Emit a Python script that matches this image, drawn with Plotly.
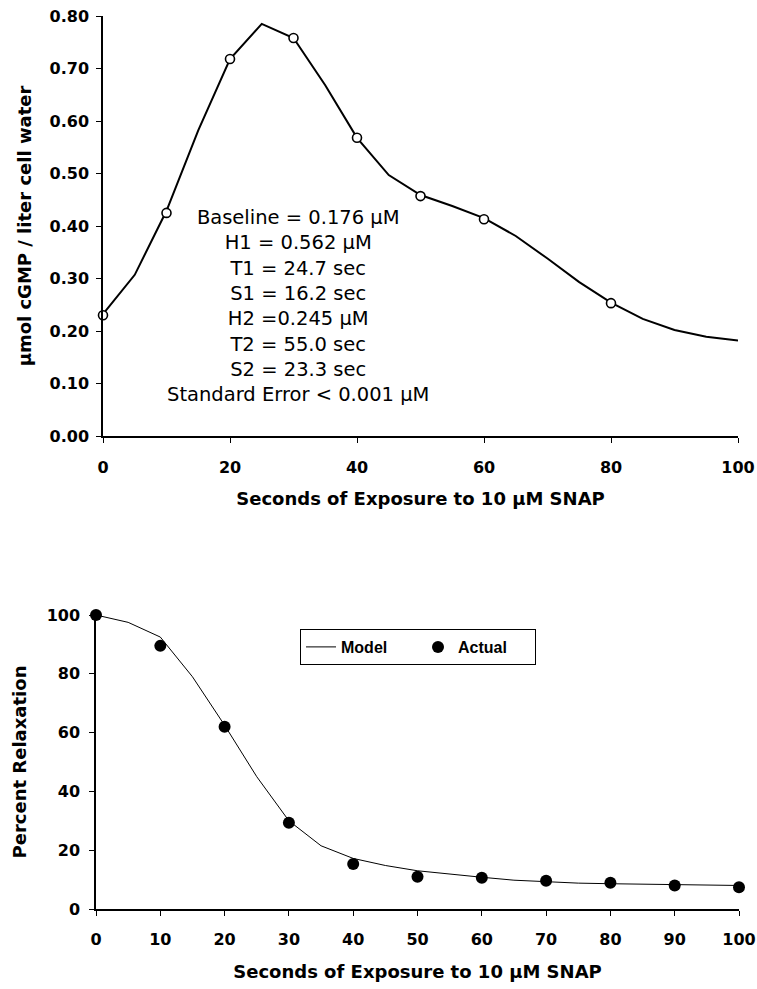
import plotly.graph_objects as go

# ---------------- data ----------------
# Top panel: cGMP (µmol / liter cell water) vs seconds of exposure
top_model_t = [0, 5, 10, 15, 20, 25, 30, 35, 40, 45, 50, 55, 60, 65, 70, 75, 80, 85, 90, 95, 100]
top_model_y = [0.232, 0.307, 0.429, 0.582, 0.718, 0.785, 0.758, 0.668, 0.568, 0.497, 0.459,
               0.438, 0.415, 0.381, 0.338, 0.293, 0.254, 0.223, 0.202, 0.189, 0.182]
top_data_t = [0, 10, 20, 30, 40, 50, 60, 80]
top_data_y = [0.230, 0.425, 0.718, 0.758, 0.568, 0.457, 0.413, 0.253]

top_xticks = [0, 20, 40, 60, 80, 100]
top_yticks = [0.0, 0.1, 0.2, 0.3, 0.4, 0.5, 0.6, 0.7, 0.8]

params_lines = ["Baseline = 0.176 µM", "H1 = 0.562 µM", "T1 = 24.7 sec", "S1 = 16.2 sec",
                "H2 =0.245 µM", "T2 = 55.0 sec", "S2 = 23.3 sec", "Standard Error &lt; 0.001 µM"]

# Bottom panel: percent relaxation
bot_model_t = [0, 5, 10, 15, 20, 25, 30, 35, 40, 45, 50, 55, 60, 65, 70, 75, 80, 85, 90, 95, 100]
bot_model_y = [100, 97.5, 92.5, 79, 62.5, 45, 30, 21.5, 17.2, 14.8, 13, 11.8, 10.8, 9.8, 9.2,
               8.8, 8.6, 8.4, 8.2, 8.1, 8.0]
bot_data_t = [0, 10, 20, 30, 40, 50, 60, 70, 80, 90, 100]
bot_data_y = [100, 89.5, 62, 29.3, 15.3, 11, 10.6, 9.6, 8.9, 8.0, 7.4]

bot_xticks = [0, 10, 20, 30, 40, 50, 60, 70, 80, 90, 100]
bot_yticks = [0, 20, 40, 60, 80, 100]

x_title = "Seconds of Exposure to 10 µM SNAP"
top_y_title = "µmol cGMP / liter cell water"
bot_y_title = "Percent Relaxation"

# ---------------- figure ----------------
W, H = 757, 989

def px_x(p):
    return p / W

def px_y(p):
    return 1 - p / H

fig = go.Figure()

fig.add_trace(go.Scatter(x=top_model_t, y=top_model_y, mode="lines",
                         line=dict(color="black", width=2), showlegend=False,
                         xaxis="x", yaxis="y", cliponaxis=False, hoverinfo="skip"))
fig.add_trace(go.Scatter(x=top_data_t, y=top_data_y, mode="markers",
                         marker=dict(symbol="circle", size=9, color="white",
                                     line=dict(color="black", width=1.6)),
                         showlegend=False, xaxis="x", yaxis="y", cliponaxis=False))

fig.add_trace(go.Scatter(x=bot_model_t, y=bot_model_y, mode="lines", name="Model",
                         line=dict(color="black", width=1),
                         xaxis="x2", yaxis="y2", cliponaxis=False))
fig.add_trace(go.Scatter(x=bot_data_t, y=bot_data_y, mode="markers", name="Actual",
                         marker=dict(symbol="circle", size=12, color="black"),
                         xaxis="x2", yaxis="y2", cliponaxis=False))

tickfont = dict(family="DejaVu Sans", size=16, color="black", weight="bold")
titlefont = dict(family="DejaVu Sans", size=18, color="black", weight="bold")

axis_common = dict(showline=True, linecolor="black", linewidth=1.5, ticks="outside",
                   ticklen=5, tickwidth=1.2, tickcolor="black", showgrid=False,
                   zeroline=False, tickfont=tickfont, fixedrange=True, automargin=False,
                   ticklabeloverflow="allow")

# inside half of the crossing tick marks
inner_common = dict(showline=False, ticks="inside", ticklen=4, tickwidth=1.2,
                    tickcolor="black", showgrid=False, zeroline=False,
                    showticklabels=False, fixedrange=True, automargin=False)

fig.update_layout(
    width=W, height=H,
    margin=dict(l=0, r=0, t=0, b=0),
    paper_bgcolor="white", plot_bgcolor="white",
    font=dict(family="DejaVu Sans", color="black"),
    xaxis=dict(domain=[px_x(103), px_x(738)], anchor="y", range=[0, 100],
               tickmode="array", tickvals=top_xticks, ticklabelstandoff=11,
               title=dict(text=x_title, font=titlefont, standoff=16), **axis_common),
    yaxis=dict(domain=[px_y(436), px_y(16)], anchor="x", range=[0, 0.8],
               tickmode="array", tickvals=top_yticks, tickformat=".2f",
               ticklabelstandoff=4,
               title=dict(text=top_y_title, font=titlefont, standoff=13), **axis_common),
    xaxis2=dict(domain=[px_x(96), px_x(739)], anchor="y2", range=[0, 100],
                tickmode="array", tickvals=bot_xticks, ticklabelstandoff=10,
                title=dict(text=x_title, font=titlefont, standoff=17), **axis_common),
    yaxis2=dict(domain=[px_y(909), px_y(615)], anchor="x2", range=[0, 100],
                tickmode="array", tickvals=bot_yticks, ticklabelstandoff=6,
                title=dict(text=bot_y_title, font=titlefont, standoff=15), **axis_common),
    xaxis3=dict(domain=[px_x(103), px_x(738)], anchor="y", overlaying="x", range=[0, 100],
                tickmode="array", tickvals=top_xticks, **inner_common),
    yaxis3=dict(domain=[px_y(436), px_y(16)], anchor="x", overlaying="y", range=[0, 0.8],
                tickmode="array", tickvals=top_yticks, **inner_common),
    xaxis4=dict(domain=[px_x(96), px_x(739)], anchor="y2", overlaying="x2", range=[0, 100],
                tickmode="array", tickvals=bot_xticks, **inner_common),
    yaxis4=dict(domain=[px_y(909), px_y(615)], anchor="x2", overlaying="y2", range=[0, 100],
                tickmode="array", tickvals=bot_yticks, **inner_common),
    legend=dict(orientation="h", x=px_x(418), xanchor="center", y=px_y(629), yanchor="top",
                bordercolor="black", borderwidth=1, bgcolor="white",
                font=dict(family="Liberation Sans", size=16, color="black", weight="bold"),
                entrywidth=72, tracegroupgap=0),
    showlegend=True,
)

fig.add_annotation(x=30.7, y=0.248, xref="x", yref="y", text="<br>".join(params_lines),
                   showarrow=False, xanchor="center", yanchor="middle", align="center",
                   font=dict(family="DejaVu Sans", size=19.5, color="black"))

# remove the default 8px page margin so the figure fills the window exactly
fig.write_html("out.html",
               config={"displayModeBar": False},
               post_script="document.body.style.margin='0';"
                           "document.documentElement.style.overflow='hidden';")
